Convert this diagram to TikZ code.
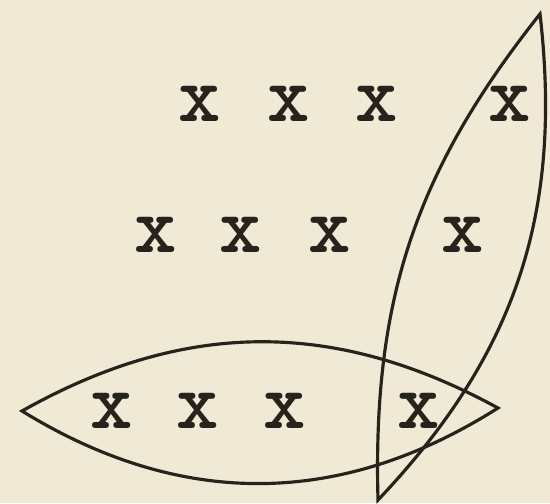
\documentclass[tikz,border=0pt]{standalone}
\usetikzlibrary{positioning}

\definecolor{paper}{RGB}{239,233,214}
\definecolor{ink}{RGB}{38,34,28}

\begin{document}
\begin{tikzpicture}[
    x=0.02cm,
    y=-0.02cm,
    cross/.style={
        text=ink,
        inner sep=0pt,
        font=\ttfamily\bfseries\fontsize{46pt}{46pt}\selectfont
    },
    lens/.style={
        draw=ink,
        line width=1.8pt,
        line join=miter
    }
]

    % -------------------------------------------------------
    % Paper
    % -------------------------------------------------------
    \fill[paper] (0,0) rectangle (550,503);
    \useasboundingbox (0,0) rectangle (550,503);

    % -------------------------------------------------------
    % Top row
    % -------------------------------------------------------
    \node[cross] (top1) at (200,104) {x};
    \node[cross] (top2) at (289,104) {x};
    \node[cross] (top3) at (377,104) {x};
    \node[cross] (top4) at (510,104) {x};

    % -------------------------------------------------------
    % Middle row
    % -------------------------------------------------------
    \node[cross] (mid1) at (156,235) {x};
    \node[cross] (mid2) at (241,235) {x};
    \node[cross] (mid3) at (330,235) {x};
    \node[cross] (mid4) at (463,235) {x};

    % -------------------------------------------------------
    % Bottom row
    % -------------------------------------------------------
    \node[cross] (low1) at (112,411) {x};
    \node[cross] (low2) at (198,411) {x};
    \node[cross] (low3) at (285,411) {x};
    \node[cross] (low4) at (419,411) {x};

    % -------------------------------------------------------
    % Lens round the bottom row
    % -------------------------------------------------------
    \coordinate (rowtipL) at (22,411);
    \coordinate (rowtipR) at (498,408);

    \draw[lens]
        (rowtipL) to[bend left=29] (rowtipR)
        to[bend left=32] (rowtipL) -- cycle;

    % -------------------------------------------------------
    % Lens round the right column
    % -------------------------------------------------------
    \coordinate (coltipB) at (378,500);
    \coordinate (coltipT) at (540,14);

    \draw[lens]
        (coltipB) to[bend left=20] (coltipT)
        to[bend left=25] (coltipB) -- cycle;

\end{tikzpicture}
\end{document}
